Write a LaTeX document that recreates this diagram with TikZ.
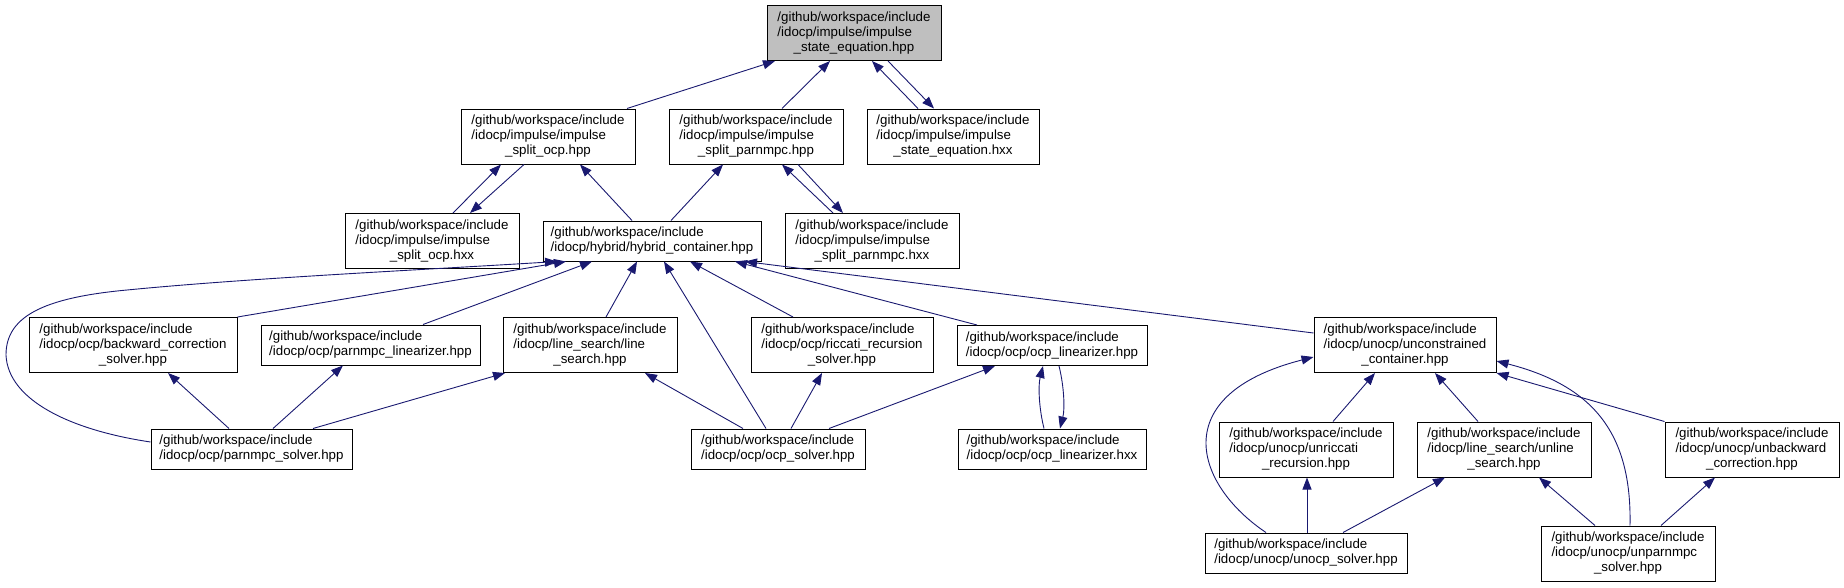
\documentclass[tikz,border=0pt]{standalone}
\usepackage{fontspec}
\setmainfont{Liberation Sans}
\usetikzlibrary{arrows.meta,calc}
\definecolor{edgeblue}{HTML}{191970}
\definecolor{rootgray}{HTML}{BFBFBF}
\newcommand{\twolines}[2]{\begin{tabular}{@{}l@{}}#1\\#2\end{tabular}}
\newcommand{\threelines}[3]{\begin{tabular}{@{}l@{}}#1\\#2\\\multicolumn{1}{@{}c@{}}{#3}\end{tabular}}
\newcommand{\gw}{/github/workspace/include}
\begin{document}
\begin{tikzpicture}[x=1pt,y=-1pt,
  file/.style={draw=black,line width=1pt,fill=white,inner sep=0pt,minimum height=55pt,font=\fontsize{13.3}{15}\selectfont},
  shortfile/.style={file,minimum height=40pt},
  dep/.style={draw=edgeblue,line width=0.9pt,arrows={Triangle[length=12pt,width=9pt]-}}]
\useasboundingbox (0,0) rectangle (1844,587);
% Root
\node[file,fill=rootgray,minimum width=174pt] (top) at (854,33) {\threelines{\gw}{/idocp/impulse/impulse}{\_state\_equation.hpp}};
% Level 1
\node[file,minimum width=174pt] (splitocp) at (548,136.5) {\threelines{\gw}{/idocp/impulse/impulse}{\_split\_ocp.hpp}};
\node[file,minimum width=174pt] (splitpar) at (756,136.5) {\threelines{\gw}{/idocp/impulse/impulse}{\_split\_parnmpc.hpp}};
\node[file,minimum width=172pt] (steqhxx) at (953,136.5) {\threelines{\gw}{/idocp/impulse/impulse}{\_state\_equation.hxx}};
% Level 2
\node[file,minimum width=174pt] (splitocphxx) at (432,241) {\threelines{\gw}{/idocp/impulse/impulse}{\_split\_ocp.hxx}};
\node[shortfile,minimum width=218pt] (hybrid) at (652,241) {\twolines{\gw}{/idocp/hybrid/hybrid\_container.hpp}};
\node[file,minimum width=174pt] (splitparhxx) at (872,241) {\threelines{\gw}{/idocp/impulse/impulse}{\_split\_parnmpc.hxx}};
% Level 3
\node[file,minimum width=208pt] (bwdsolver) at (133,345) {\threelines{\gw}{/idocp/ocp/backward\_correction}{\_solver.hpp}};
\node[shortfile,minimum width=219pt] (parlin) at (370.5,345) {\twolines{\gw}{/idocp/ocp/parnmpc\_linearizer.hpp}};
\node[file,minimum width=174pt] (linesearch) at (590,345) {\threelines{\gw}{/idocp/line\_search/line}{\_search.hpp}};
\node[file,minimum width=182pt] (riccati) at (842,345) {\threelines{\gw}{/idocp/ocp/riccati\_recursion}{\_solver.hpp}};
\node[shortfile,minimum width=190pt] (ocplin) at (1052,345.5) {\twolines{\gw}{/idocp/ocp/ocp\_linearizer.hpp}};
\node[file,minimum width=182pt] (uncon) at (1405,345) {\threelines{\gw}{/idocp/unocp/unconstrained}{\_container.hpp}};
% Level 4
\node[shortfile,minimum width=201pt] (parsolver) at (251.5,449) {\twolines{\gw}{/idocp/ocp/parnmpc\_solver.hpp}};
\node[shortfile,minimum width=174pt] (ocpsolver) at (778,449) {\twolines{\gw}{/idocp/ocp/ocp\_solver.hpp}};
\node[shortfile,minimum width=188pt] (ocplinhxx) at (1052,449) {\twolines{\gw}{/idocp/ocp/ocp\_linearizer.hxx}};
\node[file,minimum width=174pt] (unriccati) at (1306,449.5) {\threelines{\gw}{/idocp/unocp/unriccati}{\_recursion.hpp}};
\node[file,minimum width=174pt] (unline) at (1504,449.5) {\threelines{\gw}{/idocp/line\_search/unline}{\_search.hpp}};
\node[file,minimum width=174pt] (unbwd) at (1752,449.5) {\threelines{\gw}{/idocp/unocp/unbackward}{\_correction.hpp}};
% Level 5
\node[shortfile,minimum width=202pt] (unocpsolver) at (1306,553) {\twolines{\gw}{/idocp/unocp/unocp\_solver.hpp}};
\node[file,minimum width=174pt] (unparsolver) at (1628,553.5) {\threelines{\gw}{/idocp/unocp/unparnmpc}{\_solver.hpp}};
% Bends of the long edges
\coordinate (pcA) at (6,355);
\coordinate (pcB) at (127,290);
% Edges to the root
\draw[dep] ($(top.south)+(-79,0)$) -- ($(splitocp.north)+(79,0)$);
\draw[dep] ($(top.south)+(-24,0)$) -- ($(splitpar.north)+(26,0)$);
\draw[dep] ($(top.south)+(18,0)$) -- ($(steqhxx.north)+(-35,0)$);
\draw[dep] ($(steqhxx.north)+(-19,0)$) -- ($(top.south)+(34,0)$);
% Impulse split files
\draw[dep] ($(splitocp.south)+(-47,0)$) -- ($(splitocphxx.north)+(21,0)$);
\draw[dep] ($(splitocphxx.north)+(38,0)$) -- ($(splitocp.south)+(-24,0)$);
\draw[dep] ($(splitocp.south)+(32,0)$) -- ($(hybrid.north)+(-20,0)$);
\draw[dep] ($(splitpar.south)+(-33,0)$) -- ($(hybrid.north)+(19,0)$);
\draw[dep] ($(splitpar.south)+(26,0)$) -- ($(splitparhxx.north)+(-39,0)$);
\draw[dep] ($(splitparhxx.north)+(-29,0)$) -- ($(splitpar.south)+(42,0)$);
% Hybrid container
\draw[dep] ($(hybrid.south)+(-86,0)$) -- (bwdsolver.north east);
\draw[dep] ($(hybrid.south)+(-60,0)$) -- ($(parlin.north)+(52.5,0)$);
\draw[dep] ($(hybrid.south)+(-15,0)$) -- ($(linesearch.north)+(16,0)$);
\draw[dep] ($(hybrid.south)+(12,0)$) -- ($(ocpsolver.north)+(-12,0)$);
\draw[dep] ($(hybrid.south)+(38,0)$) -- ($(riccati.north)+(-49,0)$);
\draw[dep] ($(hybrid.south)+(83,0)$) -- ($(ocplin.north)+(-75,0)$);
\draw[dep] ($(hybrid.south)+(93,0)$) -- ($(uncon.west)+(0,-12)$);
\draw[dep] ($(hybrid.south)+(-95,0)$) .. controls (420,270) and (250,278) .. (pcB)
  .. controls (40,298) and (6,318) .. (pcA)
  .. controls (8,400) and (70,430) .. ($(parsolver.west)+(0,-7)$);
% OCP solvers
\draw[dep] ($(bwdsolver.south)+(35,0)$) -- ($(parsolver.north)+(-22.5,0)$);
\draw[dep] ($(parlin.south)+(-27.5,0)$) -- ($(parsolver.north)+(21.5,0)$);
\draw[dep] ($(linesearch.south)+(-85,0)$) -- ($(parsolver.north)+(61.5,0)$);
\draw[dep] ($(linesearch.south)+(55,0)$) -- ($(ocpsolver.north)+(-35,0)$);
\draw[dep] ($(riccati.south)+(-20,0)$) -- ($(ocpsolver.north)+(13,0)$);
\draw[dep] ($(ocplin.south)+(-57,0)$) -- ($(ocpsolver.north)+(51,0)$);
\draw[dep] ($(ocplin.south)+(-9,0)$) .. controls +(-5,20) and +(-5,-20) .. ($(ocplinhxx.north)+(-8,0)$);
\draw[dep] ($(ocplinhxx.north)+(8,0)$) .. controls +(5,-20) and +(5,20) .. ($(ocplin.south)+(7,0)$);
% Unconstrained container
\draw[dep] ($(uncon.south)+(-30,0)$) -- ($(unriccati.north)+(27,0)$);
\draw[dep] ($(uncon.south)+(30,0)$) -- ($(unline.north)+(-26,0)$);
\draw[dep] (uncon.south east) -- (unbwd.north west);
\draw[dep] ($(uncon.west)+(0,12)$) .. controls (1165,395) and (1195,485) .. ($(unocpsolver.north)+(-40,0)$);
\draw[dep] ($(uncon.east)+(0,16)$) .. controls (1590,385) and (1632,430) .. ($(unparsolver.north)+(2,0)$);
% Unconstrained solvers
\draw[dep] ($(unriccati.south)+(1,0)$) -- ($(unocpsolver.north)+(1,0)$);
\draw[dep] ($(unline.south)+(-59,0)$) -- ($(unocpsolver.north)+(37,0)$);
\draw[dep] ($(unline.south)+(35,0)$) -- ($(unparsolver.north)+(-33,0)$);
\draw[dep] ($(unbwd.south)+(-37,0)$) -- ($(unparsolver.north)+(33,0)$);
\end{tikzpicture}
\end{document}
